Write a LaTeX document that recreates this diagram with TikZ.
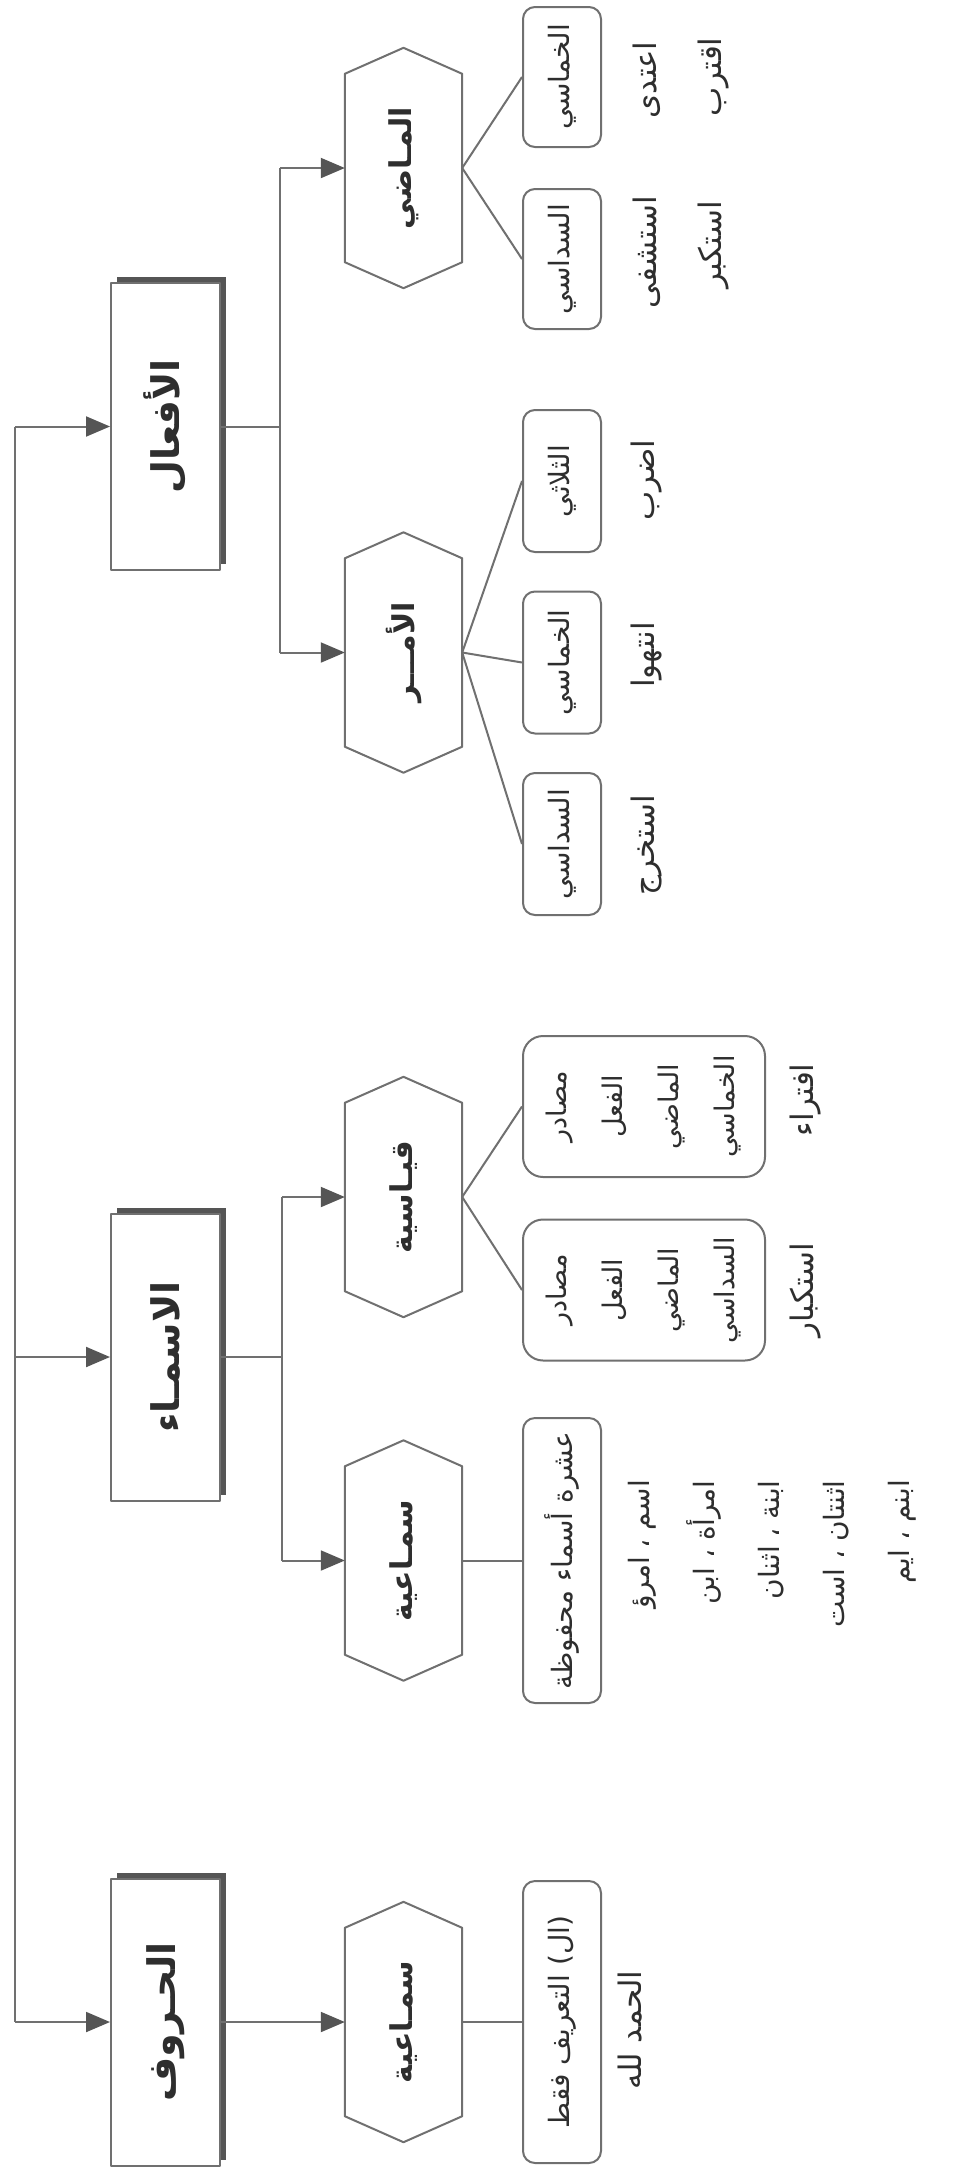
\documentclass[tikz,border=0pt]{standalone}
\usepackage{fontspec}
\newfontfamily\arabicfont[Script=Arabic]{DejaVu Sans}
\TeXXeTstate=1
\usetikzlibrary{arrows.meta,calc,shadows}
\definecolor{lc}{HTML}{707070}
\definecolor{shc}{HTML}{555555}
\definecolor{tc}{HTML}{2E2E2E}
\newcommand{\rtl}[1]{\beginR #1\endR}
\newcommand{\hexdraw}[1]{\draw[ln,fill=white] ($(#1.north west)+(0,26)$) -- (#1.north) -- ($(#1.north east)+(0,26)$) -- ($(#1.south east)+(0,-26)$) -- (#1.south) -- ($(#1.south west)+(0,-26)$) -- cycle;}
\begin{document}
\begin{tikzpicture}[x=1pt,y=-1pt,line join=round,
  ln/.style={draw=lc,line width=2pt},
  arr/.style={ln,-{Triangle[length=24pt,width=20pt,color=shc]}},
  mainbox/.style={draw=lc,line width=2pt,fill=white,minimum width=109pt,minimum height=287pt,inner sep=0pt,
    drop shadow={shadow xshift=6pt,shadow yshift=6pt,fill=shc,opacity=1}},
  hexn/.style={minimum width=117pt,minimum height=240pt,inner sep=0pt},
  sbox/.style={draw=lc,line width=2pt,rounded corners=12pt,fill=white,inner sep=0pt,minimum width=78pt},
  wbox/.style={sbox,rounded corners=20pt,minimum width=242pt,minimum height=141pt},
  lab/.style={rotate=90,text=tc,inner sep=0pt},
  mainlab/.style={lab,font=\arabicfont\bfseries\fontsize{38}{44}\selectfont},
  hexlab/.style={lab,font=\arabicfont\bfseries\fontsize{30}{36}\selectfont},
  boxlab/.style={lab,font=\arabicfont\fontsize{28}{32}\selectfont},
  exlab/.style={lab,font=\arabicfont\fontsize{31}{36}\selectfont}]
\fill[white] (0,0) rectangle (969,2180);
\useasboundingbox (0,0) rectangle (969,2180);

% main boxes
\node[mainbox] (fbox) at (165.5,426.5) {};
\node[mainbox] (ibox) at (165.5,1357) {};
\node[mainbox] (hbox) at (165.5,2022) {};
\node[mainlab] at (fbox.center) {\rtl{الأفعال}};
\node[mainlab] at (ibox.center) {\rtl{الاسمـاء}};
\node[mainlab] at (hbox.center) {\rtl{الحـروف}};

% trunk
\coordinate (t1) at (15,426.5);
\coordinate (t2) at (15,1357);
\coordinate (t3) at (15,2022);
\draw[ln] (t1) -- (t3);
\draw[arr] (t1) -- (fbox.west);
\draw[arr] (t2) -- (ibox.west);
\draw[arr] (t3) -- (hbox.west);

% hexagons
\node[hexn] (hmadi) at (403.5,168) {};
\node[hexn] (hamr) at (403.5,652.5) {};
\node[hexn] (hqiyas) at (403.5,1197) {};
\node[hexn] (hsamaa) at (403.5,1560.5) {};
\node[hexn] (hsamaab) at (403.5,2022) {};
\hexdraw{hmadi}
\hexdraw{hamr}
\hexdraw{hqiyas}
\hexdraw{hsamaa}
\hexdraw{hsamaab}
\node[hexlab] at (hmadi.center) {\rtl{المـاضي}};
\node[hexlab] at (hamr.center) {\rtl{الأمـــر}};
\node[hexlab] at (hqiyas.center) {\rtl{قيـاسية}};
\node[hexlab] at (hsamaa.center) {\rtl{سمـاعية}};
\node[hexlab] at (hsamaab.center) {\rtl{سمـاعية}};

% connectors from main boxes
\coordinate (ca) at (280,426.5);
\coordinate (ca1) at (280,168);
\coordinate (ca2) at (280,652.5);
\draw[ln] (fbox.east) -- (ca);
\draw[ln] (ca1) -- (ca2);
\draw[arr] (ca1) -- (hmadi.west);
\draw[arr] (ca2) -- (hamr.west);
\coordinate (cb) at (282,1357);
\coordinate (cb1) at (282,1197);
\coordinate (cb2) at (282,1560.5);
\draw[ln] (ibox.east) -- (cb);
\draw[ln] (cb1) -- (cb2);
\draw[arr] (cb1) -- (hqiyas.west);
\draw[arr] (cb2) -- (hsamaa.west);
\draw[arr] (hbox.east) -- (hsamaab.west);

% small boxes
\node[sbox,minimum height=140pt] (b1) at (562,77) {};
\node[sbox,minimum height=140pt] (b2) at (562,259) {};
\node[sbox,minimum height=142pt] (b3) at (562,481) {};
\node[sbox,minimum height=142pt] (b4) at (562,662.5) {};
\node[sbox,minimum height=142pt] (b5) at (562,844) {};
\node[wbox] (b6) at (644,1106.5) {};
\node[wbox] (b7) at (644,1290) {};
\node[sbox,minimum height=285pt] (b8) at (562,1560.5) {};
\node[sbox,minimum height=282pt] (b9) at (562,2022) {};
\node[boxlab] at (b1.center) {\rtl{الخماسي}};
\node[boxlab] at (b2.center) {\rtl{السداسي}};
\node[boxlab] at (b3.center) {\rtl{الثلاثي}};
\node[boxlab] at (b4.center) {\rtl{الخماسي}};
\node[boxlab] at (b5.center) {\rtl{السداسي}};
\node[lab,align=center,font=\arabicfont\fontsize{27}{56}\selectfont] at (b6.center) {\rtl{مصادر}\\\rtl{الفعل}\\\rtl{الماضي}\\\rtl{الخماسي}};
\node[lab,align=center,font=\arabicfont\fontsize{27}{56}\selectfont] at (b7.center) {\rtl{مصادر}\\\rtl{الفعل}\\\rtl{الماضي}\\\rtl{السداسي}};
\node[boxlab] at (b8.center) {\rtl{عشرة أسماء محفوظة}};
\node[boxlab] at (b9.center) {\rtl{(ال) التعريف فقط}};

\draw[ln] (hmadi.east) -- (b1.west);
\draw[ln] (hmadi.east) -- (b2.west);
\draw[ln] (hamr.east) -- (b3.west);
\draw[ln] (hamr.east) -- (b4.west);
\draw[ln] (hamr.east) -- (b5.west);
\draw[ln] (hqiyas.east) -- (b6.west);
\draw[ln] (hqiyas.east) -- (b7.west);
\draw[ln] (hsamaa.east) -- (b8.west);
\draw[ln] (hsamaab.east) -- (b9.west);

% examples
\node[exlab] at (647,80) {\rtl{اعتدى}};
\node[exlab] at (713,77) {\rtl{اقترب}};
\node[exlab] at (647,252) {\rtl{استشفى}};
\node[exlab] at (713,245) {\rtl{استكبر}};
\node[exlab] at (647,480) {\rtl{اضرب}};
\node[exlab] at (647,655) {\rtl{انتهوا}};
\node[exlab] at (647,845) {\rtl{استخرج}};
\node[exlab] at (805,1100) {\rtl{افتراء}};
\node[exlab] at (805,1290) {\rtl{استكبار}};
\node[lab,align=right,anchor=east,font=\arabicfont\fontsize{28}{65}\selectfont] at (772,1480) {\rtl{اسم ، امرؤ}\\\rtl{امرأة ، ابن}\\\rtl{ابنة ، اثنان}\\\rtl{اثنتان ، است}\\\rtl{ابنم ، ايم}};
\node[exlab] at (630,2030) {\rtl{الحمد لله}};
\end{tikzpicture}
\end{document}
